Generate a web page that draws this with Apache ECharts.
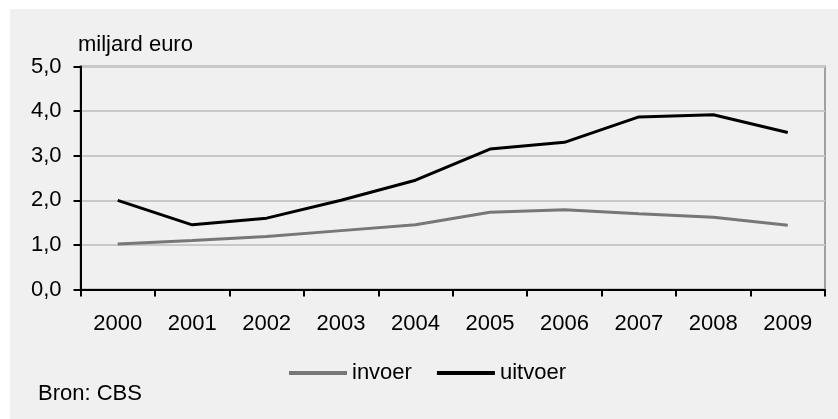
<!DOCTYPE html>
<html>
<head>
<meta charset="utf-8">
<script src="https://cdn.jsdelivr.net/npm/echarts@6/dist/echarts.min.js"></script>
<style>
html,body{margin:0;padding:0;background:#ffffff;}
#c{width:838px;height:419px;}
</style>
</head>
<body>
<div id="c"></div>
<script>
const years = ['2000','2001','2002','2003','2004','2005','2006','2007','2008','2009'];
const invoer = [1.02, 1.10, 1.19, 1.32, 1.45, 1.73, 1.79, 1.70, 1.62, 1.44];
const uitvoer = [2.00, 1.45, 1.60, 2.00, 2.45, 3.15, 3.30, 3.87, 3.92, 3.52];
const seriesNames = ['invoer', 'uitvoer'];
const unitLabel = 'miljard euro';
const sourceLabel = 'Bron: CBS';

const FONT = '"Liberation Sans", Arial, sans-serif';
const chart = echarts.init(document.getElementById('c'), null, {renderer: 'canvas'});
chart.setOption({
  animation: false,
  backgroundColor: '#ffffff',
  graphic: [
    {type: 'rect', left: 10, top: 9, shape: {width: 828, height: 410}, style: {fill: '#f0f0f0'}, z: -10},
    {type: 'text', left: 78, top: 34, style: {text: unitLabel, font: '22px ' + FONT, fill: '#000'}},
    {type: 'text', left: 38, top: 383, style: {text: sourceLabel, font: '22px ' + FONT, fill: '#000'}}
  ],
  grid: {
    left: 80.5, right: 13, top: 66.5, bottom: 129.5,
    show: true, borderColor: '#a0a0a0', borderWidth: 2, backgroundColor: 'transparent'
  },
  legend: {
    left: 284, top: 357,
    itemWidth: 58, itemHeight: 4, itemGap: 25,
    icon: 'rect',
    textStyle: {fontFamily: FONT, fontSize: 22, color: '#000'},
    data: seriesNames
  },
  xAxis: {
    type: 'category',
    data: years,
    boundaryGap: true,
    axisLine: {lineStyle: {color: '#000', width: 2}},
    axisTick: {show: true, length: 7, lineStyle: {color: '#000', width: 2}},
    axisLabel: {color: '#000', fontFamily: FONT, fontSize: 22, margin: 23},
    splitLine: {show: false}
  },
  yAxis: {
    type: 'value',
    min: 0, max: 5, interval: 1,
    axisLine: {show: true, lineStyle: {color: '#000', width: 2}},
    axisTick: {show: true, length: 7, lineStyle: {color: '#000', width: 2}},
    axisLabel: {color: '#000', fontFamily: FONT, fontSize: 22, margin: 19,
      formatter: v => v.toFixed(1).replace('.', ',')},
    splitLine: {show: true, lineStyle: {color: '#c8c8c8', width: 2}}
  },
  series: [
    {name: seriesNames[0], type: 'line', data: invoer, symbol: 'none',
      lineStyle: {color: '#777777', width: 3}, itemStyle: {color: '#777777'}, z: 2},
    {name: seriesNames[1], type: 'line', data: uitvoer, symbol: 'none',
      lineStyle: {color: '#000000', width: 3}, itemStyle: {color: '#000000'}, z: 3}
  ]
});
</script>
</body>
</html>
